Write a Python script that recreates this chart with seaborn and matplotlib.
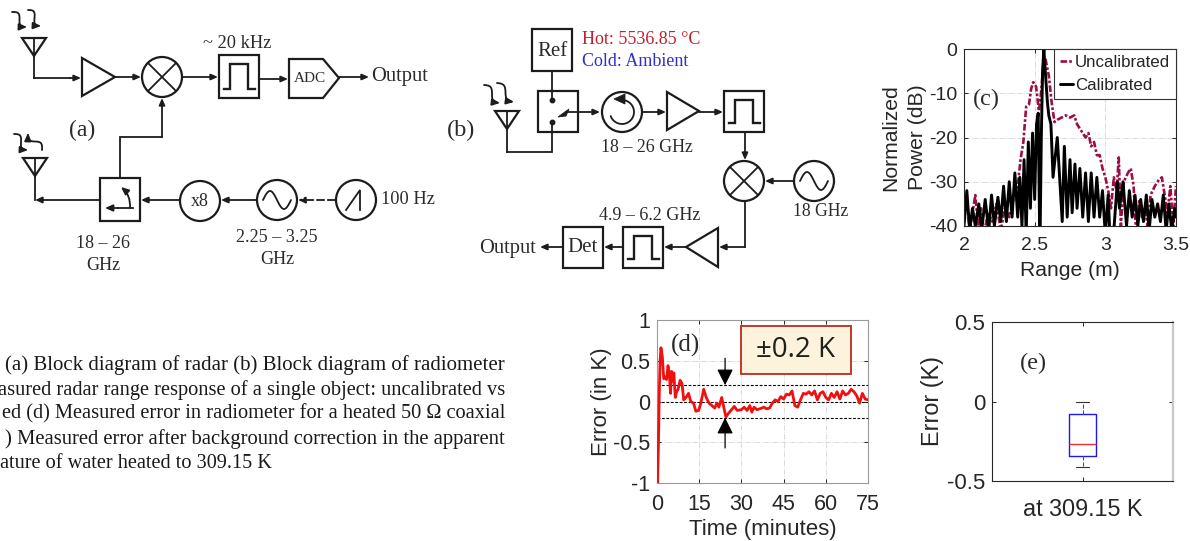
import numpy as np
import pandas as pd
import matplotlib
matplotlib.use("Agg")
import matplotlib.pyplot as plt
from matplotlib.patches import Circle, Polygon, Rectangle
import seaborn as sns

# ---------- data ----------
cal_range = [2.00,2.02,2.04,2.06,2.08,2.105,2.125,2.15,2.175,2.195,2.215,2.24,2.26,2.28,2.30,2.32,2.34,2.36,2.38,2.395,2.41,2.425,2.44,2.455,2.47,2.485,2.50,2.513,2.525,2.537,2.547,2.556,2.565,2.575,2.59,2.60,2.615,2.63,2.66,2.695,2.71,2.73,2.75,2.765,2.785,2.80,2.82,2.84,2.86,2.88,2.90,2.92,2.94,2.96,2.98,3.00,3.02,3.035,3.06,3.085,3.10,3.125,3.15,3.17,3.19,3.21,3.23,3.25,3.27,3.29,3.31,3.33,3.35,3.37,3.39,3.41,3.43,3.45,3.47,3.49,3.50]
cal_db = [-40,-32,-41,-36,-40,-35,-41,-34,-41,-33,-40,-33.5,-39,-31,-39,-30,-38,-28,-38,-29,-40,-25,-42,-21,-36,-19,-34,-17,-14.5,-46,-20,-5,0,-5,-12,-15,-17,-29,-20,-39,-22,-38,-25,-37,-26,-36,-27,-38,-28,-39,-28,-38,-29,-38,-32,-42,-33,-44,-41,-30,-36,-30,-40,-32,-38,-33,-40,-34,-39,-33,-41,-34,-38,-35,-39,-33,-41,-35,-41,-36,-38]

unc_range = [2.00,2.02,2.04,2.06,2.08,2.10,2.12,2.14,2.17,2.20,2.23,2.26,2.29,2.32,2.35,2.38,2.40,2.42,2.44,2.46,2.475,2.49,2.51,2.53,2.545,2.56,2.575,2.60,2.62,2.64,2.66,2.69,2.72,2.75,2.78,2.80,2.82,2.84,2.86,2.88,2.90,2.92,2.94,2.96,2.98,3.00,3.02,3.04,3.06,3.08,3.095,3.11,3.13,3.16,3.18,3.20,3.22,3.24,3.26,3.28,3.30,3.32,3.35,3.38,3.40,3.42,3.44,3.46,3.48,3.50]
unc_db = [-36,-34,-41,-37,-33,-40,-36,-42,-37,-39,-35,-41,-36,-38,-34,-31,-25,-21,-13,-12.5,-9,-7.5,-8.5,-14,-10,-4,-2,-6,-12,-16.5,-16,-15.5,-15,-15.5,-15,-17,-18,-19,-20,-19,-22,-21,-24,-24,-27,-29,-32,-36,-29,-32,-24.5,-40,-30,-28,-27,-31,-43,-34,-38,-36,-40,-33,-31,-29.5,-29,-33,-37,-31,-40,-31]

err_time = [0.2,0.5,0.8,1.1,1.4,1.9,2.4,2.9,3.4,3.9,4.4,4.8,5.2,5.6,6.0,6.5,7.0,7.5,8.2,8.9,9.5,10.3,11.2,12.0,13.0,13.8,14.8,15.5,16.6,17.5,18.5,19.5,20.5,21.3,22.0,23.0,23.8,24.5,25.3,26.5,27.5,28.5,30.0,31.0,32.0,33.0,33.7,34.5,35.5,36.5,38.0,39.0,40.0,41.0,42.0,43.0,44.0,45.0,46.0,47.0,48.0,49.0,50.0,51.0,52.0,53.0,54.0,55.0,56.0,57.0,58.0,59.0,60.0,61.0,62.0,63.0,64.0,65.0,66.0,67.0,68.0,69.0,70.0,71.0,72.0,73.0,74.0,75.0]
err_k = [-1,-0.55,0.1,0.5,0.66,0.55,0.28,0.3,0.27,0.44,0.33,0.1,0.37,0.25,0.35,0.05,0.12,0.15,0.26,0.22,0.02,0.05,0.1,0.0,-0.02,-0.12,-0.11,-0.03,0.15,0.05,-0.02,-0.05,-0.08,-0.02,-0.07,0.05,-0.08,-0.19,-0.15,-0.1,-0.06,-0.11,-0.1,-0.07,-0.11,-0.05,-0.13,-0.07,-0.1,-0.09,-0.07,-0.09,-0.08,-0.02,0.02,0.0,0.06,0.03,0.09,0.08,0.13,-0.05,-0.07,0.02,0.1,0.09,0.12,0.08,0.13,0.02,0.1,0.12,0.05,0.02,0.1,0.05,0.12,0.03,0.13,0.08,0.1,0.15,0.12,0.07,-0.02,0.1,0.03,0.02]

box_label = ["at 309.15 K"] * 5
box_err = [-0.41, -0.345, -0.27, -0.08, -0.005]

caption = ["(a) Block diagram of radar (b) Block diagram of radiometer",
           "asured radar range response of a single object: uncalibrated vs",
           "ed (d) Measured error in radiometer for a heated 50 Ω coaxial",
           ") Measured error after background correction in the apparent",
           "ature of water heated to 309.15 K"]

# ---------- style ----------
sns.set_theme(style="ticks")
SANS = "Liberation Sans"
SERIF = "Liberation Serif"
plt.rcParams.update({"font.family": [SANS, "DejaVu Sans"], "axes.unicode_minus": False,
                     "text.color": "#262626", "axes.labelcolor": "#262626",
                     "xtick.color": "#262626", "ytick.color": "#262626"})

W, H = 1190, 541
fig = plt.figure(figsize=(W / 100, H / 100), dpi=100, facecolor="white")

def px_axes(x0, y0, x1, y1):
    return fig.add_axes([x0 / W, 1 - y1 / H, (x1 - x0) / W, (y1 - y0) / H])

def finish(ax, size, grid=True):
    ax.tick_params(direction="in", length=3, width=0.7, labelsize=size, pad=5, top=True, right=True)
    ax.tick_params(axis="x", pad=8)
    for s in ax.spines.values():
        s.set_linewidth(0.8)
    if grid:
        ax.grid(True, color="#d5d5d5", ls="-.", lw=0.6)
        ax.set_axisbelow(True)

def labels(ax, xlabel, ylabel, size, xy_frac, yx_frac, **kw):
    if xlabel:
        ax.set_xlabel(xlabel, fontsize=size, va="center")
        ax.xaxis.set_label_coords(0.5, xy_frac)
    else:
        ax.set_xlabel("")
    ax.set_ylabel(ylabel, fontsize=size, va="center", **kw)
    ax.yaxis.set_label_coords(yx_frac, 0.5)

# panel (c)
axc = px_axes(964, 49, 1176, 226)
sns.lineplot(x=unc_range, y=unc_db, ax=axc, color="#9b0f46", lw=1.9, ls=(0, (2.5, 0.8, 1, 0.8)),
             estimator=None, sort=False, label="Uncalibrated")
sns.lineplot(x=cal_range, y=cal_db, ax=axc, color="black", lw=2.1,
             estimator=None, sort=False, label="Calibrated")
axc.set(xlim=(2, 3.5), ylim=(-40, 0), xticks=[2, 2.5, 3, 3.5], yticks=[-40, -30, -20, -10, 0])
axc.set_xticklabels(["2", "2.5", "3", "3.5"])
finish(axc, 14)
labels(axc, "Range (m)", "Normalized\nPower (dB)", 15.2, -0.249, -0.283, linespacing=1.5)
leg = axc.legend(loc="upper right", bbox_to_anchor=(1, 1), borderaxespad=0, fontsize=12.2, frameon=True,
                 fancybox=False, framealpha=1, edgecolor="#333333", handlelength=0.8,
                 handletextpad=0.1, labelspacing=0.5, borderpad=0.35)
leg.get_frame().set_linewidth(0.8)
leg.set_zorder(5)

# panel (d)
axd = px_axes(657, 320, 868, 483)
sns.lineplot(x=err_time, y=err_k, ax=axd, color="#f01010", lw=2.0, estimator=None, sort=False, zorder=3)
for lvl in (-0.2, 0, 0.2):
    axd.axhline(lvl, color="black", ls=(0, (2.5, 1.5)), lw=0.8, zorder=2)
axd.set(xlim=(0, 75), ylim=(-1, 1), xticks=[0, 15, 30, 45, 60, 75], yticks=[-1, -0.5, 0, 0.5, 1])
axd.set_yticklabels(["-1", "-0.5", "0", "0.5", "1"])
finish(axd, 15.5)
for s in axd.spines.values():
    s.set_color("#9a9a9a")
labels(axd, "Time (minutes)", "Error (in K)", 16, -0.285, -0.265)
for tip, tail in ((0.2, 0.53), (-0.2, -0.57)):
    axd.annotate("", xy=(24.2, tip), xytext=(24.2, tail),
                 arrowprops=dict(arrowstyle="-|>,head_width=0.35,head_length=0.7", color="black", lw=0.9,
                                 shrinkA=0, shrinkB=0, mutation_scale=14))

# panel (e)
axe = px_axes(992, 322, 1173, 481)
sns.boxplot(x=box_label, y=box_err, ax=axe, width=0.15, whis=3, fliersize=0, fill=False,
            boxprops=dict(color="#1a1aee", linewidth=1.0),
            medianprops=dict(color="#f03030", linewidth=1.0),
            whiskerprops=dict(color="#555555", linewidth=0.8, ls="--"),
            capprops=dict(color="#333333", linewidth=0.8))
axe.set(xlim=(-0.5, 0.5), ylim=(-0.5, 0.5), yticks=[-0.5, 0, 0.5])
axe.set_yticklabels(["-0.5", "0", "0.5"])
finish(axe, 16, grid=False)
axe.spines["right"].set_color("#c8c8c8")
axe.spines["right"].set_linewidth(1.6)
axe.tick_params(axis="x", labelsize=16.8, pad=12)
labels(axe, "", "Error (K)", 16.8, 0, -0.326)

# ---------- overlay with block diagrams, in pixel coordinates ----------
ov = fig.add_axes([0, 0, 1, 1], zorder=10)
ov.set_xlim(0, W)
ov.set_ylim(H, 0)
ov.axis("off")
ov.patch.set_alpha(0)
INK = "#1c1c1c"
LW = 1.3

def line(*pts, lw=LW, **kw):
    xs, ys = zip(*pts)
    ov.plot(xs, ys, color=INK, lw=lw, solid_capstyle="projecting", solid_joinstyle="miter", **kw)

def arrow(a, b, ls="-", ms=8, conn=None):
    props = dict(arrowstyle="-|>,head_width=0.22,head_length=0.5", color=INK, lw=LW, ls=ls,
                 shrinkA=0, shrinkB=0, mutation_scale=ms)
    if conn:
        props["connectionstyle"] = conn
    ov.annotate("", xy=b, xytext=a, arrowprops=props)

def box(x0, y0, x1, y1):
    ov.add_patch(Rectangle((x0, y0), x1 - x0, y1 - y0, fc="white", ec=INK, lw=1.6))

def circle(cx, cy, r=20):
    ov.add_patch(Circle((cx, cy), r, fc="white", ec=INK, lw=1.6))

def mixer(cx, cy):
    circle(cx, cy)
    d = 14
    line((cx - d, cy - d), (cx + d, cy + d))
    line((cx - d, cy + d), (cx + d, cy - d))

def sine(cx, cy):
    circle(cx, cy)
    t = np.linspace(-1, 1, 50)
    ov.plot(cx + 14 * t, cy + 9 * np.sin(np.pi * t), color=INK, lw=LW)

def filt(x0, y0, x1, y1):
    box(x0, y0, x1, y1)
    line((x0 + 5, y1 - 9), (x0 + 11, y1 - 9), (x0 + 11, y0 + 9), (x1 - 11, y0 + 9), (x1 - 11, y1 - 9), (x1 - 4, y1 - 9), lw=1.7)

def tri(*pts):
    ov.add_patch(Polygon(pts, closed=True, fc="white", ec=INK, lw=1.6, joinstyle="miter"))

def solid(*pts):
    ov.add_patch(Polygon(pts, closed=True, fc=INK, ec=INK, lw=0.6))

def antenna(cx, top, stem_end):
    tri((cx - 12, top), (cx + 12, top), (cx, top + 18))
    line((cx, top), (cx, stem_end))

def wave(x0, y0, x1, y1):
    t = np.linspace(0, 1, 30)
    xs = x0 + (x1 - x0) * t + 2.5 * np.sin(2 * np.pi * t)
    ys = y0 + (y1 - y0) * t - 2.5 * np.sin(2 * np.pi * t)
    ov.plot(xs[:-3], ys[:-3], color=INK, lw=LW)
    arrow((xs[-4], ys[-4]), (x1, y1), ms=9)

def txt(x, y, s, size=11, ha="center", color="#2a2a2a", family=SERIF):
    ov.text(x, y, s, fontsize=size, ha=ha, va="center", color=color, family=family)

# (a)
antenna(34, 38, 78)
wave(12, 12, 27, 27); wave(28, 10, 41, 26)
line((34, 78), (70, 78)); arrow((70, 78), (81, 78))
tri((82, 58), (82, 96), (115, 77))
arrow((115, 77), (141, 77))
mixer(162, 77)
arrow((183, 77), (218, 77))
filt(219, 55, 259, 98)
arrow((259, 79), (288, 79))
tri((289, 59), (323, 59), (339, 78), (323, 98), (289, 98))
txt(310, 79, "ADC", 11)
arrow((339, 77), (369, 77))
txt(371, 76, "Output", 14.8, ha="left")
txt(237, 43, "~ 20 kHz", 13.2)
txt(82, 130, "(a)", 17)
antenna(35, 158, 200)
wave(14, 134, 28, 150); wave(42, 150, 28, 133)
arrow((100, 200), (35, 200))
box(100, 178, 140, 221)
line((133, 208), (118, 208))
arrow((118, 208), (105, 208), ms=9)
arrow((130, 208), (121, 187), ms=9, conn="arc3,rad=0.25")
line((120, 178), (120, 137), (162, 137)); arrow((162, 137), (162, 98))
arrow((180, 200), (141, 200))
circle(200, 201); txt(200, 201, "x8", 13)
arrow((257, 200), (221, 200))
sine(277, 200)
arrow((335, 200), (298, 200), ls=(0, (4, 2)))
circle(356, 200)
line((346, 210), (360, 190), (360, 210))
txt(381, 200, "100 Hz", 13.2, ha="left")
txt(103, 243, "18 – 26", 13); txt(103, 265, "GHz", 13)
txt(277, 238, "2.25 – 3.25", 13.1); txt(277, 259, "GHz", 13.1)

# (b)
box(532, 29, 572, 71); txt(553, 51, "Ref", 15)
txt(582, 39, "Hot: 5536.85 °C", 13, ha="left", color="#c4202e")
txt(582, 61, "Cold: Ambient", 13, ha="left", color="#3030c8")
line((552, 71), (552, 91))
box(538, 91, 578, 132)
line((552, 91), (552, 100))
ov.plot([552, 552], [100, 122], ls="", marker="o", ms=3.2, color=INK)
solid((558, 117), (569, 109), (566, 116))
line((566, 112), (578, 112))
arrow((578, 112), (600, 112))
circle(622, 112)
ang = np.linspace(-1.4, 2.8, 40)
ov.plot(622 + 12 * np.cos(ang), 112 + 12 * np.sin(ang), color=INK, lw=LW)
solid((614, 99), (625, 94), (625, 104))
arrow((642, 112), (666, 112))
tri((667, 92), (667, 130), (699, 111))
arrow((699, 112), (723, 112))
filt(724, 91, 764, 132)
arrow((745, 132), (745, 160))
mixer(744, 181)
sine(814, 181)
arrow((794, 181), (765, 181))
txt(821, 212, "18 GHz", 12.7)
line((745, 201), (745, 247)); arrow((745, 247), (719, 247))
tri((718, 228), (718, 267), (686, 247))
arrow((686, 247), (664, 247))
filt(623, 227, 663, 268)
arrow((623, 247), (604, 247))
box(563, 227, 603, 268); txt(583, 248, "Det", 15)
arrow((563, 247), (540, 247))
txt(536, 248, "Output", 14.8, ha="right")
txt(650, 215, "4.9 – 6.2 GHz", 13)
txt(647, 148, "18 – 26 GHz", 12.9)
txt(461, 130, "(b)", 17.5)
antenna(507, 111, 152)
line((507, 152), (552, 152), (552, 122))
wave(484, 85, 500, 103); wave(497, 83, 514, 102)

# panel tags and badge
txt(986, 99, "(c)", 17.5)
txt(685, 345, "(d)", 18)
txt(1033, 363, "(e)", 17.5)
ov.add_patch(Rectangle((741, 326), 110, 48, fc="#fdf3dc", ec="#c0392b", lw=1.4))
txt(796, 350, "±0.2 K", 20, family="Open Sans", color="#1f1f1f")

# caption
cap_y = [365, 390, 414, 439, 463]
cap_x = [5, 505, 505, 505, 0]
cap_ha = ["left", "right", "right", "right", "left"]
cap_size = [15.0, 14.7, 14.7, 14.9, 14.6]
for s, x, y, ha, fs in zip(caption, cap_x, cap_y, cap_ha, cap_size):
    txt(x, y, s, fs, ha=ha, color="#1a1a1a")

fig.savefig("out.png", dpi=100)
